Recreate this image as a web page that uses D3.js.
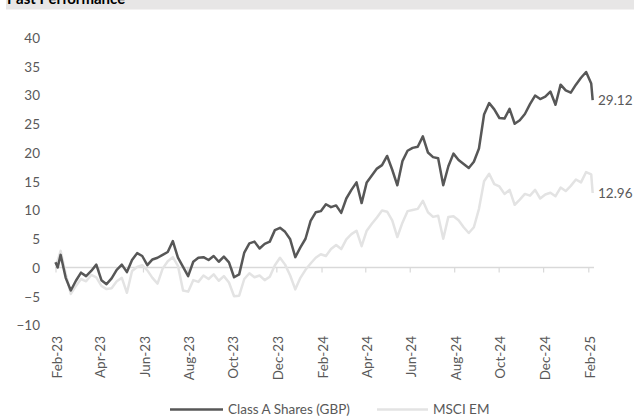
<!DOCTYPE html>
<html>
<head>
<meta charset="utf-8">
<script src="https://cdn.jsdelivr.net/npm/d3@7"></script>
<style>
  html, body { margin: 0; padding: 0; background: #fff; }
  svg { display: block; }
  text { font-family: Lato, "Open Sans", sans-serif; }
</style>
</head>
<body>
<svg id="chart" width="634" height="417"></svg>
<script>
// ---- data ----
const title = "Past Performance";
const seriesNames = ["Class A Shares (GBP)", "MSCI EM"];
const dates = [
  "2023-02-01","2023-02-04","2023-02-08","2023-02-15","2023-02-22","2023-03-01","2023-03-08","2023-03-15","2023-03-22","2023-03-29",
  "2023-04-05","2023-04-12","2023-04-19","2023-04-26","2023-05-03","2023-05-10","2023-05-17","2023-05-24","2023-05-31",
  "2023-06-07","2023-06-14","2023-06-21","2023-06-28","2023-07-05","2023-07-12","2023-07-19","2023-07-26","2023-08-02",
  "2023-08-09","2023-08-16","2023-08-23","2023-08-30","2023-09-06","2023-09-13","2023-09-20","2023-09-27","2023-10-04",
  "2023-10-11","2023-10-18","2023-10-25","2023-11-01","2023-11-08","2023-11-15","2023-11-22","2023-11-29","2023-12-06",
  "2023-12-13","2023-12-20","2023-12-27","2024-01-03","2024-01-10","2024-01-17","2024-01-24","2024-01-31","2024-02-07",
  "2024-02-14","2024-02-21","2024-02-28","2024-03-06","2024-03-13","2024-03-20","2024-03-27","2024-04-03","2024-04-10",
  "2024-04-17","2024-04-24","2024-05-01","2024-05-08","2024-05-15","2024-05-22","2024-05-29","2024-06-05","2024-06-12",
  "2024-06-19","2024-06-26","2024-07-03","2024-07-10","2024-07-17","2024-07-24","2024-07-31","2024-08-07","2024-08-14",
  "2024-08-21","2024-08-28","2024-09-04","2024-09-11","2024-09-18","2024-09-25","2024-10-02","2024-10-09","2024-10-16",
  "2024-10-23","2024-10-30","2024-11-06","2024-11-13","2024-11-20","2024-11-27","2024-12-04","2024-12-11","2024-12-18",
  "2024-12-25","2025-01-01","2025-01-08","2025-01-15","2025-01-22","2025-01-29","2025-02-05","2025-02-07"
];
const classA = [
  0.9, 0.0, 2.2, -1.8, -4.0, -2.3, -0.9, -1.5, -0.6, 0.5,
  -2.2, -2.9, -1.9, -0.4, 0.5, -0.8, 1.3, 2.5, 2.0,
  0.4, 1.4, 1.7, 2.2, 2.7, 4.6, 1.7, 0.1, -1.5,
  1.0, 1.7, 1.8, 1.3, 2.0, 1.0, 1.9, 0.9, -1.7,
  -1.2, 2.6, 4.2, 4.5, 3.3, 4.1, 4.5, 6.5, 6.9,
  6.2, 4.9, 1.8, 3.5, 5.0, 8.1, 9.6, 9.8, 11.0,
  10.5, 10.8, 9.5, 12.0, 13.5, 14.8, 11.2, 14.8, 16.0,
  17.2, 17.8, 19.4, 17.0, 14.3, 18.5, 20.3, 20.8, 21.0,
  22.8, 20.0, 19.2, 19.0, 14.3, 17.6, 19.8, 18.7, 18.0,
  17.3, 18.4, 20.7, 26.6, 28.6, 27.5, 26.0, 25.9, 27.6,
  25.0, 25.6, 26.7, 28.4, 29.9, 29.3, 29.7, 30.6, 28.3,
  31.8, 30.8, 30.4, 31.8, 33.0, 34.0, 32.0, 29.12
];
const msciEM = [
  0.6, 1.2, 2.9, -1.1, -4.6, -3.2, -2.0, -2.4, -1.3, -1.7,
  -3.2, -3.75, -3.6, -2.4, -1.8, -4.4, -0.6, 0.1, 0.4,
  -0.5, -1.8, -2.8, -0.2, 1.1, 1.8, 0.3, -4.0, -4.2,
  -2.2, -2.5, -1.4, -2.0, -1.2, -2.3, -1.5, -2.6, -5.0,
  -4.9, -2.0, -1.0, -1.7, -1.4, -2.2, -1.6, 0.4, 1.7,
  0.5, -1.4, -3.8, -1.8, -0.4, 0.7, 1.7, 2.3, 2.0,
  3.2, 3.9, 3.2, 4.9, 5.8, 6.4, 3.7, 6.4, 7.6,
  8.7, 9.9, 9.7, 8.2, 5.3, 7.8, 9.8, 10.0, 10.2,
  11.6, 9.6, 8.8, 9.0, 5.0, 8.8, 8.9, 8.2, 7.0,
  6.0, 7.0, 10.2, 15.0, 16.3, 14.5, 14.1, 12.8, 13.5,
  10.9, 11.8, 12.8, 12.5, 13.5, 12.0, 12.7, 13.0, 12.4,
  13.9, 13.3, 14.2, 15.3, 14.8, 16.6, 16.2, 12.96
];
const yTicks = [-10, -5, 0, 5, 10, 15, 20, 25, 30, 35, 40];
const xTickDates = ["2023-02-01","2023-04-01","2023-06-01","2023-08-01","2023-10-01","2023-12-01",
  "2024-02-01","2024-04-01","2024-06-01","2024-08-01","2024-10-01","2024-12-01","2025-02-01"];

// ---- drawing ----
const parse = d3.timeParse("%Y-%m-%d");
const svg = d3.select("#chart");
const textColor = "#595959";
const colors = ["#575757", "#e3e3e3"];

// title bar
svg.append("rect").attr("x", 6).attr("y", 0).attr("width", 628).attr("height", 9.5).attr("fill", "#e7e6e6");
svg.append("text").attr("x", 7).attr("y", 4).attr("font-size", 15).attr("font-weight", 700)
  .attr("fill", "#000").text(title);

const x = d3.scaleTime()
  .domain([parse("2023-02-01"), parse("2025-02-01")])
  .range([55.5, 588.3]);
const y = d3.scaleLinear().domain([-10, 40]).range([325, 37.5]);

// y axis labels
const yAxis = d3.axisLeft(y).tickValues(yTicks).tickSize(0).tickPadding(0).tickFormat(d3.format("d"));
const gy = svg.append("g").attr("transform", "translate(40,0)").call(yAxis);
gy.select(".domain").remove();
gy.selectAll("text").attr("font-size", 13.5).attr("fill", textColor)
  .attr("font-family", "Lato, 'Open Sans', sans-serif").attr("dy", "0.36em");

// zero line and x axis ticks
const y0 = y(0);
svg.append("line").attr("x1", 55).attr("x2", 594).attr("y1", y0).attr("y2", y0)
  .attr("stroke", "#d9d9d9").attr("stroke-width", 1.5);
const xAxis = d3.axisBottom(x).tickValues(xTickDates.map(parse)).tickSize(5)
  .tickFormat(d3.timeFormat("%b-%y"));
const gx = svg.append("g").attr("transform", `translate(0,${y0})`).call(xAxis);
gx.select(".domain").remove();
gx.selectAll(".tick line").attr("stroke", "#d9d9d9").attr("stroke-width", 1.2);
gx.selectAll("text")
  .attr("font-size", 13.5).attr("fill", textColor)
  .attr("font-family", "Lato, 'Open Sans', sans-serif")
  .attr("text-anchor", "end")
  .attr("x", 0).attr("y", 0).attr("dy", "0.45em")
  .attr("transform", `translate(0,${336 - y0}) rotate(-90)`);

// lines
const data = dates.map((d, i) => ({ date: parse(d), a: classA[i], m: msciEM[i] }));
const lineA = d3.line().x(d => x(d.date)).y(d => y(d.a));
const lineM = d3.line().x(d => x(d.date)).y(d => y(d.m));
svg.append("path").datum(data).attr("d", lineM).attr("fill", "none")
  .attr("stroke", colors[1]).attr("stroke-width", 2.5).attr("stroke-linejoin", "round");
svg.append("path").datum(data).attr("d", lineA).attr("fill", "none")
  .attr("stroke", colors[0]).attr("stroke-width", 2.5).attr("stroke-linejoin", "round");

// end labels
const last = data[data.length - 1];
[last.a, last.m].forEach(v => {
  svg.append("text").attr("x", 598).attr("y", y(v)).attr("dy", "0.36em")
    .attr("font-size", 13.5).attr("fill", textColor).text(d3.format(".2f")(v));
});

// legend
const legend = [
  { name: seriesNames[0], color: colors[0], x1: 170, x2: 223, tx: 228 },
  { name: seriesNames[1], color: colors[1], x1: 377, x2: 428, tx: 433 }
];
const ly = 409.5;
legend.forEach(l => {
  svg.append("line").attr("x1", l.x1).attr("x2", l.x2).attr("y1", ly).attr("y2", ly)
    .attr("stroke", l.color).attr("stroke-width", 2.5);
  svg.append("text").attr("x", l.tx).attr("y", ly).attr("dy", "0.36em")
    .attr("font-size", 13.5).attr("fill", textColor).text(l.name);
});
</script>
</body>
</html>
